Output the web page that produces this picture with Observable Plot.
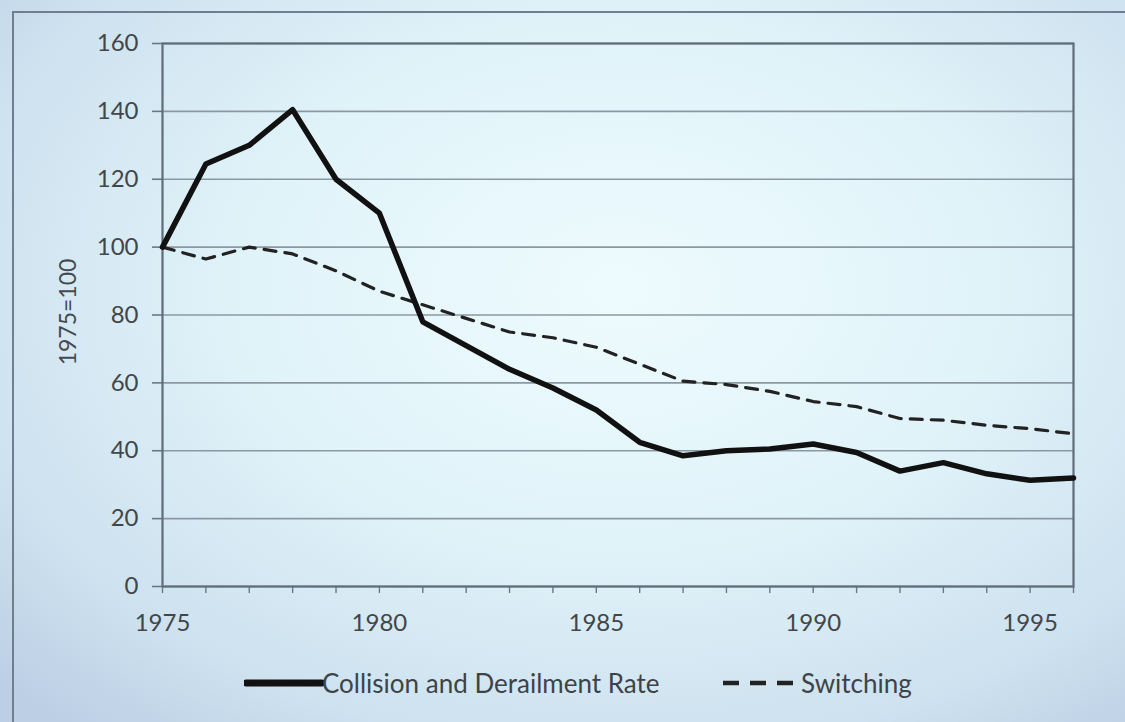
<!DOCTYPE html>
<html>
<head>
<meta charset="utf-8">
<script src="https://cdn.jsdelivr.net/npm/d3@7"></script>
<script src="https://cdn.jsdelivr.net/npm/@observablehq/plot@0.6"></script>
<style>
  html, body { margin: 0; padding: 0; }
  body {
    width: 1125px; height: 722px; overflow: hidden; position: relative;
    font-family: Lato, "Open Sans", sans-serif;
    background: radial-gradient(ellipse 75% 80% at 55% 40%, #eefbfe 0%, #e0f3f9 45%, #cde1ef 80%, #bccfe5 100%);
  }
  #frame { position: absolute; left: 12px; top: 11px; width: 1200px; height: 800px;
    border-left: 2px solid #6e7f90; border-top: 2px solid #6e7f90; }
  #chart { position: absolute; left: 0; top: 0; }
  #ylabel { position: absolute; left: 67px; top: 312px; transform: translate(-50%, -50%) rotate(-90deg);
    font-size: 23px; color: #454a50; white-space: nowrap; }
  #legend { position: absolute; left: 0; top: 666px; width: 1125px; height: 36px; }
  .lg { position: absolute; top: 0; font-size: 26px; color: #3e4348; line-height: 34px; white-space: nowrap; }
</style>
</head>
<body>
<div id="frame"></div>
<div id="chart"></div>
<div id="ylabel">1975=100</div>
<div id="legend">
  <svg style="position:absolute;left:244px;top:0" width="80" height="34"><line x1="2" y1="17" x2="78" y2="17" stroke="#111" stroke-width="7" stroke-linecap="round"/></svg>
  <div class="lg" id="lg1" style="left:322px">Collision and Derailment Rate</div>
  <svg style="position:absolute;left:722px;top:0" width="80" height="34"><line x1="1" y1="17" x2="78" y2="17" stroke="#222" stroke-width="4.5" stroke-dasharray="16,11"/></svg>
  <div class="lg" id="lg2" style="left:801px">Switching</div>
</div>
<script>
const years = d3.range(1975, 1997);
const collision = [100, 124.5, 130, 140.5, 120, 110, 78, 71, 64, 58.5, 52, 42.5, 38.5, 40, 40.5, 42, 39.5, 34, 36.5, 33.2, 31.3, 32];
const switching = [100, 96.5, 100, 98, 93, 87, 83, 79, 75, 73.3, 70.5, 65.5, 60.5, 59.5, 57.5, 54.5, 53, 49.5, 49, 47.5, 46.5, 45];
const yTicks = [0, 20, 40, 60, 80, 100, 120, 140, 160];
const xLabelYears = [1975, 1980, 1985, 1990, 1995];

const rows = years.map((y, i) => ({year: y, collision: collision[i], switching: switching[i]}));

const plot = Plot.plot({
  width: 1125,
  height: 645,
  marginLeft: 162,
  marginRight: 52,
  marginTop: 43,
  marginBottom: 59,
  style: {background: "transparent", fontFamily: "Lato, 'Open Sans', sans-serif", fontSize: "24px", color: "#45494e"},
  x: {domain: [1975, 1996]},
  y: {domain: [0, 160]},
  marks: [
    Plot.ruleY(yTicks, {stroke: "#8b98a3", strokeWidth: 1.6, strokeOpacity: 1}),
    Plot.axisY({ticks: yTicks, tickSize: 10, tickPadding: 14, label: null, stroke: "#6b7884", strokeWidth: 1.6, fill: "#424649"}),
    Plot.axisX({ticks: years, tickSize: 7, tickPadding: 20, label: null, stroke: "#6b7884", strokeWidth: 1.4,
      tickFormat: d => xLabelYears.includes(d) ? String(d) : "", fill: "#424649"}),
    Plot.frame({stroke: "#5f6d79", strokeWidth: 2.2}),
    Plot.line(rows, {x: "year", y: "switching", stroke: "#222", strokeWidth: 3.2, strokeDasharray: "12,9"}),
    Plot.line(rows, {x: "year", y: "collision", stroke: "#111", strokeWidth: 5.5, strokeLinejoin: "round"})
  ]
});
document.getElementById("chart").appendChild(plot);
</script>
</body>
</html>
